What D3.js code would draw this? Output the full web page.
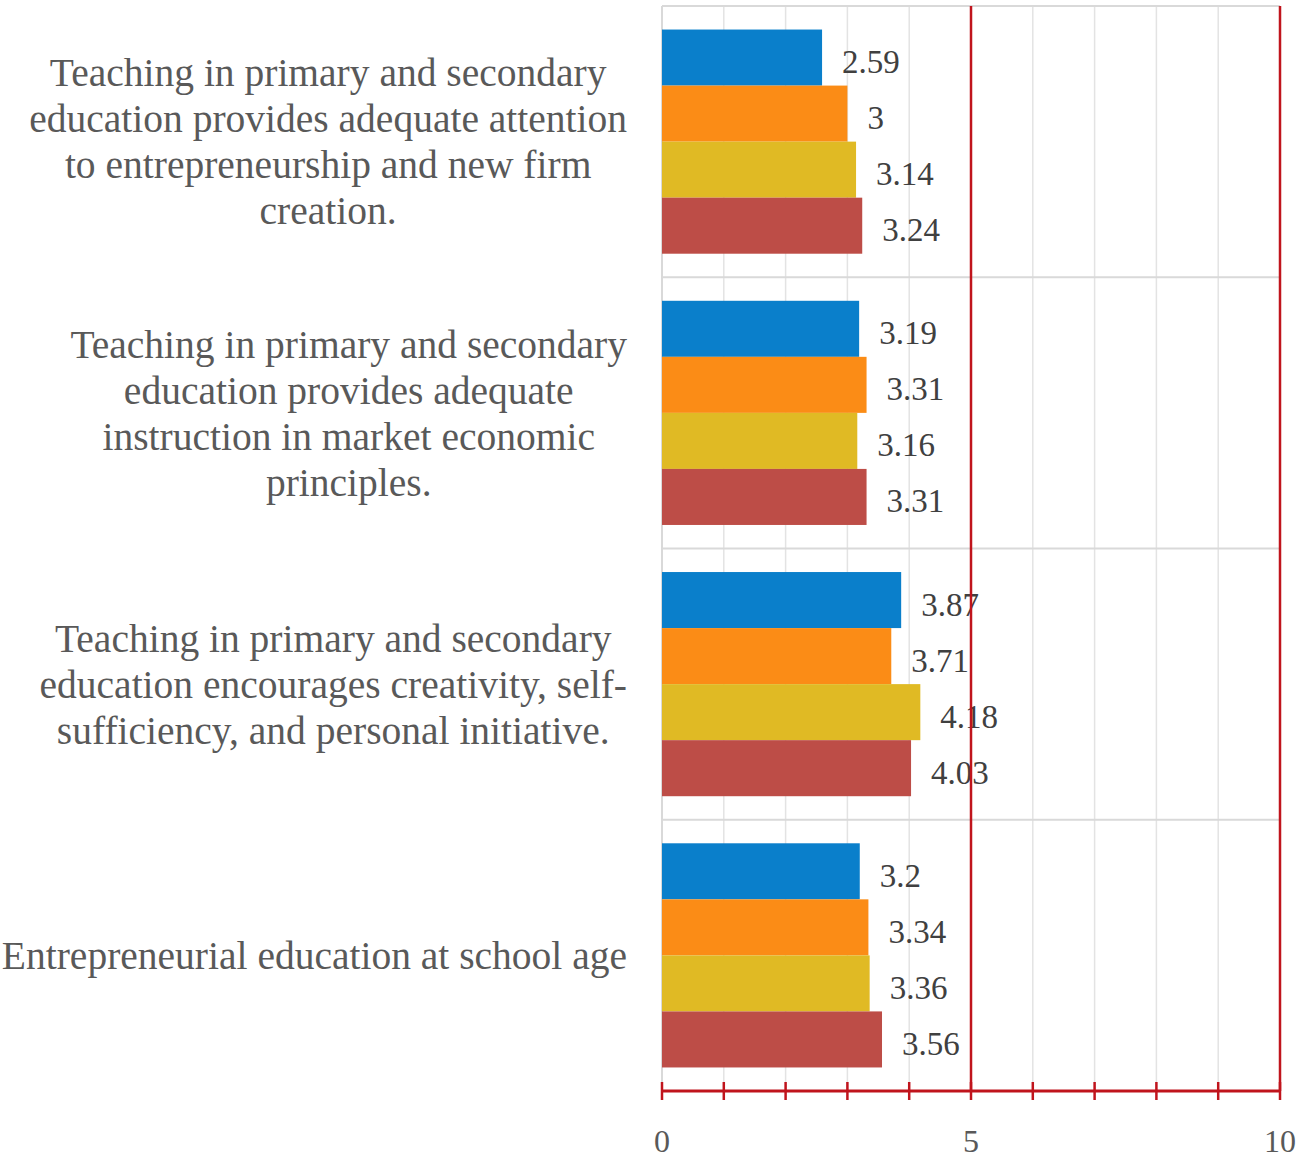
<!DOCTYPE html>
<html>
<head>
<meta charset="utf-8">
<script src="https://cdn.jsdelivr.net/npm/d3@7"></script>
<style>
  html, body { margin: 0; padding: 0; background: #fff; }
  svg { display: block; }
</style>
</head>
<body>
<svg id="chart" width="1312" height="1160"></svg>
<script>
// ---- Data ----
const categories = [
  "Teaching in primary and secondary education provides adequate attention to entrepreneurship and new firm creation.",
  "Teaching in primary and secondary education provides adequate instruction in market economic principles.",
  "Teaching in primary and secondary education encourages creativity, self-sufficiency, and personal initiative.",
  "Entrepreneurial education at school age"
];
const categoryLines = [
  ["Teaching in primary and secondary", "education provides adequate attention", "to entrepreneurship and new firm", "creation."],
  ["Teaching in primary and secondary", "education provides adequate", "instruction in market economic", "principles."],
  ["Teaching in primary and secondary", "education encourages creativity, self-", "sufficiency, and personal initiative."],
  ["Entrepreneurial education at school age"]
];
const seriesNames = ["Series 1", "Series 2", "Series 3", "Series 4"];
const seriesColors = ["#0A7FCB", "#FB8C16", "#E0BA24", "#BD4D47"];
const series1 = [2.59, 3.19, 3.87, 3.2];
const series2 = [3, 3.31, 3.71, 3.34];
const series3 = [3.14, 3.16, 4.18, 3.36];
const series4 = [3.24, 3.31, 4.03, 3.56];
const seriesValues = [series1, series2, series3, series4];
const xTickLabels = [0, 5, 10];
const xMinorTicks = [0,1,2,3,4,5,6,7,8,9,10];

// ---- Layout ----
const svg = d3.select("#chart");
const plotLeft = 662, plotRight = 1280, plotTop = 6, plotBottom = 1091;
const red = "#C0141C";
const grid = "#E3E3E3";
const sep = "#D9D9D9";

const x = d3.scaleLinear().domain([0, 10]).range([plotLeft, plotRight]);
const y0 = d3.scaleBand().domain(d3.range(categories.length)).range([plotTop, plotBottom]).padding(0);
const y1 = d3.scaleBand().domain(d3.range(seriesNames.length)).range([0, y0.bandwidth()]).paddingInner(0).paddingOuter(0.42);

// minor gridlines
svg.append("g").selectAll("line")
  .data(xMinorTicks.filter(d => d % 5 !== 0))
  .join("line")
  .attr("x1", d => x(d)).attr("x2", d => x(d))
  .attr("y1", plotTop).attr("y2", plotBottom)
  .attr("stroke", grid).attr("stroke-width", 1.5);

// top border and left axis
svg.append("line").attr("x1", plotLeft).attr("x2", plotRight).attr("y1", plotTop).attr("y2", plotTop)
  .attr("stroke", sep).attr("stroke-width", 2);
svg.append("line").attr("x1", plotLeft).attr("x2", plotLeft).attr("y1", plotTop).attr("y2", plotBottom)
  .attr("stroke", sep).attr("stroke-width", 2);

// group separators
svg.append("g").selectAll("line")
  .data(d3.range(1, categories.length))
  .join("line")
  .attr("x1", plotLeft).attr("x2", plotRight)
  .attr("y1", d => y0(d)).attr("y2", d => y0(d))
  .attr("stroke", sep).attr("stroke-width", 2);

// bars
const groups = svg.append("g").selectAll("g")
  .data(categories.map((c, i) => i))
  .join("g")
  .attr("transform", i => `translate(0,${y0(i)})`);

groups.selectAll("rect")
  .data(i => seriesValues.map((vals, s) => ({ s, v: vals[i] })))
  .join("rect")
  .attr("x", x(0))
  .attr("y", d => y1(d.s))
  .attr("width", d => x(d.v) - x(0))
  .attr("height", y1.bandwidth())
  .attr("fill", d => seriesColors[d.s]);

// value labels
groups.selectAll("text.val")
  .data(i => seriesValues.map((vals, s) => ({ s, v: vals[i] })))
  .join("text")
  .attr("class", "val")
  .attr("x", d => x(d.v) + 20)
  .attr("y", d => y1(d.s) + y1.bandwidth() / 2 + 4)
  .attr("dy", "0.35em")
  .attr("font-family", "Liberation Serif, serif")
  .attr("font-size", 33)
  .attr("fill", "#404040")
  .text(d => String(d.v));

// category labels
const lineH = 46;
const labelRight = 627;
categoryLines.forEach((lines, i) => {
  const cy = y0(i) + y0.bandwidth() / 2;
  const t = svg.append("text")
    .attr("font-family", "Liberation Serif, serif")
    .attr("font-size", 39.5)
    .attr("fill", "#595959")
    .attr("text-anchor", "middle");
  const spans = lines.map((ln, k) => t.append("tspan")
    .attr("y", cy + (k - (lines.length - 1) / 2) * lineH)
    .attr("dy", "0.35em")
    .text(ln));
  const maxW = d3.max(spans, s => s.node().getComputedTextLength());
  spans.forEach(s => s.attr("x", labelRight - maxW / 2));
});

// red reference lines at 5 and 10
svg.append("g").selectAll("line")
  .data(xMinorTicks.filter(d => d % 5 === 0 && d > 0))
  .join("line")
  .attr("x1", d => x(d)).attr("x2", d => x(d))
  .attr("y1", plotTop).attr("y2", plotBottom)
  .attr("stroke", red).attr("stroke-width", 2.5);

// bottom axis
const axis = svg.append("g").attr("transform", `translate(0,${plotBottom})`);
axis.append("line").attr("x1", plotLeft).attr("x2", plotRight).attr("y1", 0).attr("y2", 0)
  .attr("stroke", red).attr("stroke-width", 3);
axis.selectAll("line.tick")
  .data(xMinorTicks)
  .join("line")
  .attr("class", "tick")
  .attr("x1", d => x(d)).attr("x2", d => x(d))
  .attr("y1", -9).attr("y2", 9)
  .attr("stroke", red).attr("stroke-width", 2.5);
axis.selectAll("text")
  .data(xTickLabels)
  .join("text")
  .attr("x", d => x(d))
  .attr("y", 50)
  .attr("dy", "0.35em")
  .attr("text-anchor", "middle")
  .attr("font-family", "Liberation Serif, serif")
  .attr("font-size", 32)
  .attr("fill", "#595959")
  .text(d => d);
</script>
</body>
</html>
